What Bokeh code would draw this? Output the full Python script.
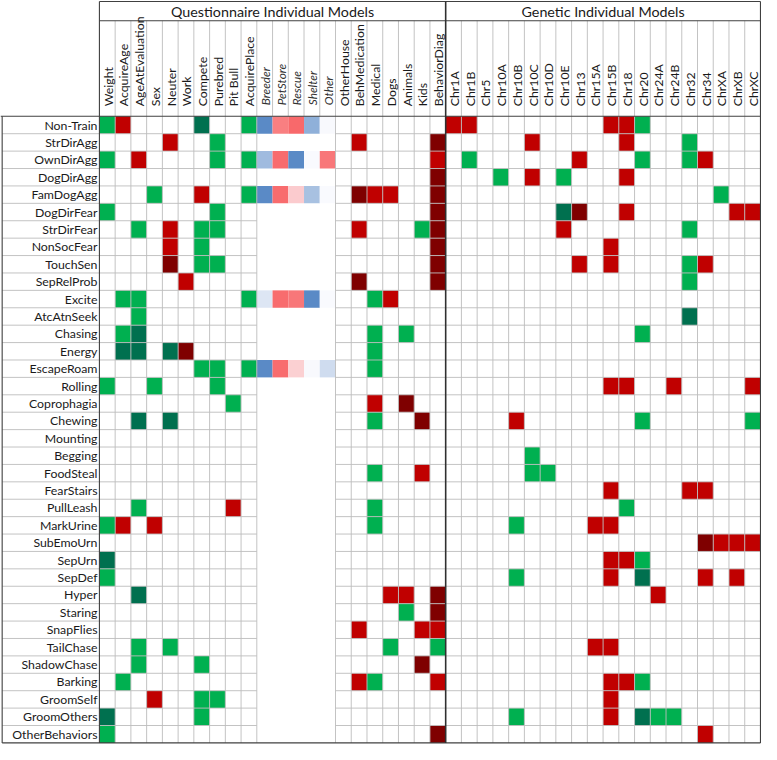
import math
from bokeh.plotting import figure
from bokeh.models import Range1d, ColumnDataSource, LinearColorMapper
from bokeh.core.properties import value
from bokeh.embed import file_html
from bokeh.resources import INLINE

# ---------------- data ----------------
rows = ["Non-Train", "StrDirAgg", "OwnDirAgg", "DogDirAgg", "FamDogAgg", "DogDirFear",
        "StrDirFear", "NonSocFear", "TouchSen", "SepRelProb", "Excite", "AtcAtnSeek",
        "Chasing", "Energy", "EscapeRoam", "Rolling", "Coprophagia", "Chewing",
        "Mounting", "Begging", "FoodSteal", "FearStairs", "PullLeash", "MarkUrine",
        "SubEmoUrn", "SepUrn", "SepDef", "Hyper", "Staring", "SnapFlies", "TailChase",
        "ShadowChase", "Barking", "GroomSelf", "GroomOthers", "OtherBehaviors"]

quest_cols = ["Weight", "AcquireAge", "AgeAtEvaluation", "Sex", "Neuter", "Work", "Compete",
              "Purebred", "Pit Bull", "AcquirePlace", "Breeder", "PetStore", "Rescue",
              "Shelter", "Other", "OtherHouse", "BehMedication", "Medical", "Dogs",
              "Animals", "Kids", "BehaviorDiag"]
acq_sub = ["Breeder", "PetStore", "Rescue", "Shelter", "Other"]
gen_cols = ["Chr1A", "Chr1B", "Chr5", "Chr10A", "Chr10B", "Chr10C", "Chr10D", "Chr10E",
            "Chr13", "Chr15A", "Chr15B", "Chr18", "Chr20", "Chr24A", "Chr24B", "Chr32",
            "Chr34", "ChrXA", "ChrXB", "ChrXC"]

# g = positive, G = strong positive, r = negative, R = strong negative, . = none
quest_cells = [
    "gr....G..g" "....." ".......",   # Non-Train
    "....r..g.." "....." ".r....R",   # StrDirAgg
    "g.r....g.g" "....." "......r",   # OwnDirAgg
    ".........." "....." "......R",   # DogDirAgg
    "...g..r..g" "....." ".Rrr..R",   # FamDogAgg
    "g......g.." "....." "......R",   # DogDirFear
    "..g.r.gg.." "....." ".r...gR",   # StrDirFear
    "....r.g..." "....." "......R",   # NonSocFear
    "....R.gg.." "....." "......R",   # TouchSen
    ".....r...." "....." ".R....R",   # SepRelProb
    ".gg......g" "....." "..gr...",   # Excite
    "..g......." "....." ".......",   # AtcAtnSeek
    ".gG......." "....." "..g.g..",   # Chasing
    ".GG.GR...." "....." "..g....",   # Energy
    "......gg.g" "....." "..g....",   # EscapeRoam
    "g..g...g.." "....." ".......",   # Rolling
    "........g." "....." "..r.R..",   # Coprophagia
    "..G.G....." "....." "..g..R.",   # Chewing
    ".........." "....." ".......",   # Mounting
    ".........." "....." ".......",   # Begging
    ".........." "....." "..g..r.",   # FoodSteal
    ".........." "....." ".......",   # FearStairs
    "..g.....r." "....." "..g....",   # PullLeash
    "gr.r......" "....." "..g....",   # MarkUrine
    ".........." "....." ".......",   # SubEmoUrn
    "G........." "....." ".......",   # SepUrn
    "g........." "....." ".......",   # SepDef
    "..G......." "....." "...rr.R",   # Hyper
    ".........." "....." "....g.R",   # Staring
    ".........." "....." ".r...rr",   # SnapFlies
    "..g.g....." "....." "...g..g",   # TailChase
    "..g...g..." "....." ".....R.",   # ShadowChase
    ".g........" "....." ".rg...r",   # Barking
    "...r..gg.." "....." ".......",   # GroomSelf
    "G.....g..." "....." ".......",   # GroomOthers
    "g........." "....." "......R",   # OtherBehaviors
]

gen_cells = [
    "rr........rrg.......",   # Non-Train
    ".....r.....r...g....",   # StrDirAgg
    ".g......r...g..gr...",   # OwnDirAgg
    "...g.r.g...r........",   # DogDirAgg
    ".................g..",   # FamDogAgg
    ".......GR..r......rr",   # DogDirFear
    ".......r.......g....",   # StrDirFear
    "..........r.........",   # NonSocFear
    "........r.r....gr...",   # TouchSen
    "...............g....",   # SepRelProb
    "....................",   # Excite
    "...............G....",   # AtcAtnSeek
    "............g.......",   # Chasing
    "....................",   # Energy
    "....................",   # EscapeRoam
    "..........rr..r....r",   # Rolling
    "....................",   # Coprophagia
    "....r.......g......g",   # Chewing
    "....................",   # Mounting
    ".....g..............",   # Begging
    ".....gg.............",   # FoodSteal
    "..........r....rr...",   # FearStairs
    "...........g........",   # PullLeash
    "....g....rr.........",   # MarkUrine
    "................Rrrr",   # SubEmoUrn
    "..........rrg.......",   # SepUrn
    "....g.....r.G...r.r.",   # SepDef
    ".............r......",   # Hyper
    "....................",   # Staring
    "....................",   # SnapFlies
    ".........rr.........",   # TailChase
    "....................",   # ShadowChase
    "..........rrg.......",   # Barking
    "..........r.........",   # GroomSelf
    "....g.....r.Ggg.....",   # GroomOthers
    "................r...",   # OtherBehaviors
]

# AcquirePlace sub-levels: -1 (blue) .. 0 (white) .. +1 (red)
acq_rows = ["Non-Train", "OwnDirAgg", "FamDogAgg", "Excite", "EscapeRoam"]
acq_breeder = [-1.00, -0.57, -1.00, -0.19, -1.00]
acq_petstore = [0.85, 0.97, 0.97, 0.97, 0.97]
acq_rescue = [1.00, -1.00, 0.33, 0.90, 0.30]
acq_shelter = [-0.67, -0.02, -0.52, -1.00, -0.03]
acq_other = [-0.03, 0.90, -0.02, -0.02, -0.28]

CODE_COLORS = {"g": "#00B050", "G": "#00704F", "r": "#C00000", "R": "#7F0000"}

# ---------------- geometry (reference pixels) ----------------
W_REF, H_REF = 777, 760
FIG_W, FIG_H = 761, 744
FS = FIG_W / W_REF
COL_W, ROW_H = 16.07, 17.78
GX0, GY0 = 101.0, 118.3

def dx(px):
    return (px - GX0) / COL_W

def dy(py):
    return (py - GY0) / ROW_H

n_q = len(quest_cols)
n_c = n_q + len(gen_cols)
n_r = len(rows)
acq_start = quest_cols.index(acq_sub[0])
acq_end = acq_start + len(acq_sub)

p = figure(width=FIG_W, height=FIG_H,
           x_range=Range1d(dx(0), dx(W_REF)), y_range=Range1d(dy(H_REF), dy(0)),
           x_axis_type=None, y_axis_type=None,
           output_backend="svg", toolbar_location=None, min_border=0)
p.outline_line_color = None
p.grid.visible = False
p.background_fill_color = "white"
p.border_fill_color = "white"

# ---------------- coded cells ----------------
L, R_, T, B, C = [], [], [], [], []
for r in range(n_r):
    s = quest_cells[r] + gen_cells[r]
    for c, ch in enumerate(s):
        if ch in CODE_COLORS:
            L.append(c); R_.append(c + 1); T.append(r); B.append(r + 1)
            C.append(CODE_COLORS[ch])
p.quad(left=L, right=R_, top=T, bottom=B, fill_color=C, line_color=None)

# ---------------- AcquirePlace colour-scale cells ----------------
def hex2rgb(h):
    return [int(h[i:i + 2], 16) for i in (1, 3, 5)]

def mix(a, b, t):
    ca, cb = hex2rgb(a), hex2rgb(b)
    return "#%02x%02x%02x" % tuple(int(round(ca[i] + (cb[i] - ca[i]) * t)) for i in range(3))

BLUE, WHITE, RED = "#5A8AC6", "#FCFCFF", "#F8696B"
palette = []
for i in range(256):
    v = -1 + 2 * i / 255
    palette.append(mix(BLUE, WHITE, v + 1) if v < 0 else mix(WHITE, RED, v))
mapper = LinearColorMapper(palette=palette, low=-1, high=1)

acq_arrays = [acq_breeder, acq_petstore, acq_rescue, acq_shelter, acq_other]
al, ar, at, ab, av = [], [], [], [], []
for i, rn in enumerate(acq_rows):
    r = rows.index(rn)
    for j, arr in enumerate(acq_arrays):
        c = acq_start + j
        al.append(c); ar.append(c + 1); at.append(r); ab.append(r + 1); av.append(arr[i])
acq_src = ColumnDataSource(dict(left=al, right=ar, top=at, bottom=ab, v=av))
p.quad(left="left", right="right", top="top", bottom="bottom", source=acq_src,
       fill_color={"field": "v", "transform": mapper}, line_color=None)

# ---------------- grid lines ----------------
GRID = "#BDBDBD"
gx0, gy0, gx1, gy1 = [], [], [], []
# body verticals
for c in range(1, n_c):
    if c == n_q or (acq_start < c < acq_end):
        continue
    gx0.append(c); gy0.append(0); gx1.append(c); gy1.append(n_r)
# header verticals
for c in range(1, n_c):
    if c == n_q:
        continue
    gx0.append(c); gy0.append(dy(20.7)); gx1.append(c); gy1.append(0)
# body horizontals (including label column)
for r in range(1, n_r):
    gx0.append(dx(1.7)); gy0.append(r); gx1.append(acq_start); gy1.append(r)
    gx0.append(acq_end); gy0.append(r); gx1.append(n_c); gy1.append(r)
p.segment(x0=gx0, y0=gy0, x1=gx1, y1=gy1, line_color=GRID, line_width=1, line_alpha=0.9)

# ---------------- borders ----------------
BORDER = "#404040"
bx0 = [0, 0, dx(0), dx(1.7), dx(1.7), 0, n_c]
by0 = [dy(1), dy(20.7), 0, n_r, 0, dy(1), dy(1)]
bx1 = [n_c, n_c, n_c, n_c, dx(1.7), 0, n_c]
by1 = [dy(1), dy(20.7), 0, n_r, n_r, n_r, n_r]
p.segment(x0=bx0, y0=by0, x1=bx1, y1=by1, line_color=BORDER, line_width=1.1)
p.segment(x0=[n_q], y0=[dy(1)], x1=[n_q], y1=[n_r], line_color="#303030", line_width=1.6)

# ---------------- texts ----------------
FONT = value("Lato")
TXT = "#1A1A1A"
row_src = ColumnDataSource(dict(x=[dx(99)] * n_r, y=[r + 0.5 for r in range(n_r)], t=rows))
p.text(x="x", y="y", text="t", source=row_src, text_font=FONT,
       text_font_size=value("%.1fpx" % (12.6 * FS)), text_color=TXT,
       text_align="right", text_baseline="middle")

all_cols = quest_cols + gen_cols
norm_i = [i for i, c in enumerate(all_cols) if c not in acq_sub]
ital_i = [i for i, c in enumerate(all_cols) if c in acq_sub]
col_src = ColumnDataSource(dict(x=[i + 0.55 for i in norm_i], y=[dy(108)] * len(norm_i),
                                t=[all_cols[i] for i in norm_i]))
p.text(x="x", y="y", text="t", source=col_src, angle=math.pi / 2, text_font=FONT,
       text_font_size=value("%.1fpx" % (12.6 * FS)), text_color=TXT,
       text_align="left", text_baseline="middle")
ital_src = ColumnDataSource(dict(x=[i + 0.55 for i in ital_i], y=[dy(107)] * len(ital_i),
                                 t=[all_cols[i] for i in ital_i]))
p.text(x="x", y="y", text="t", source=ital_src, angle=math.pi / 2, text_font=FONT,
       text_font_style="italic", text_font_size=value("%.1fpx" % (12.0 * FS)),
       text_color="#333333", text_align="left", text_baseline="middle")

head_src = ColumnDataSource(dict(x=[n_q / 2, n_q + len(gen_cols) / 2], y=[dy(11.5)] * 2,
                                 t=["Questionnaire Individual Models", "Genetic Individual Models"]))
p.text(x="x", y="y", text="t", source=head_src, text_font=FONT,
       text_font_size=value("%.1fpx" % (14.6 * FS)), text_color=TXT,
       text_align="center", text_baseline="middle")

open("out.html", "w").write(file_html(p, INLINE))
